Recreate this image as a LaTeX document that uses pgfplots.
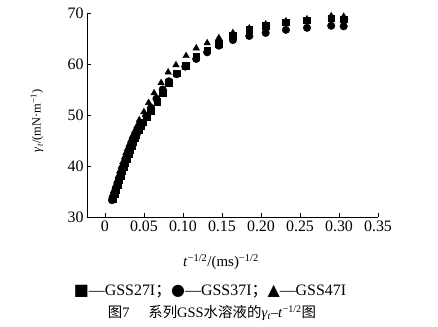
\documentclass[border=0pt]{standalone}
\usepackage{fontspec}
\setmainfont{Liberation Serif}
\newfontfamily\cjk{Noto Sans CJK SC}
\newfontfamily\sym{DejaVu Sans}
\usepackage{pgfplots}
\usepackage{pgfplotstable}
\pgfplotsset{compat=1.18}

\pgfplotstableread{
x y
0.010 33.6
0.012 34.5
0.014 35.4
0.016 36.3
0.018 37.2
0.020 38.1
0.022 39.0
0.024 39.9
0.026 40.7
0.028 41.5
0.030 42.3
0.032 43.1
0.034 43.9
0.036 44.7
0.038 45.5
0.040 46.2
0.043 47.1
0.046 47.9
0.049 48.6
0.054 49.7
0.059 50.8
0.067 52.6
0.074 54.4
0.082 56.3
0.092 58.2
0.104 59.7
0.117 61.4
0.131 62.7
0.146 64.0
0.164 65.6
0.185 66.8
0.206 67.5
0.232 68.2
0.259 68.6
0.290 69.0
0.306 68.8
}\sqdata

\pgfplotstableread{
x y
0.009 33.3
0.011 34.1
0.013 35.0
0.015 35.9
0.017 36.8
0.019 37.7
0.021 38.6
0.023 39.5
0.025 40.3
0.027 41.1
0.029 41.9
0.031 42.7
0.033 43.5
0.035 44.3
0.038 45.3
0.041 46.3
0.044 47.2
0.048 48.3
0.053 49.8
0.059 51.4
0.066 53.2
0.074 55.0
0.082 56.6
0.092 58.0
0.103 59.5
0.117 61.0
0.131 62.3
0.146 63.6
0.164 64.7
0.185 65.5
0.206 66.1
0.232 66.7
0.259 67.1
0.290 67.5
0.306 67.4
}\cidata

\pgfplotstableread{
x y
0.009 34.2
0.011 35.1
0.013 36.0
0.015 37.0
0.017 38.0
0.019 39.0
0.021 39.9
0.023 40.8
0.025 41.7
0.027 42.6
0.029 43.4
0.031 44.2
0.033 45.0
0.035 45.8
0.038 46.8
0.041 47.8
0.044 49.0
0.050 50.6
0.056 52.4
0.063 54.3
0.072 56.3
0.081 58.4
0.091 59.8
0.104 61.6
0.117 63.1
0.131 64.1
0.146 65.1
0.164 66.1
0.185 67.0
0.206 67.8
0.232 68.4
0.259 68.8
0.290 69.4
0.306 69.3
}\trdata

\begin{document}
\begin{tikzpicture}
\useasboundingbox (-87bp,-110bp) rectangle (351bp,217bp);
\begin{axis}[
  scale only axis, width=291bp, height=204bp,
  xmin=-0.023, xmax=0.35, ymin=30, ymax=70,
  axis x line*=bottom, axis y line*=left,
  axis line style={line width=0.7pt},
  xtick={0,0.05,0.10,0.15,0.20,0.25,0.30,0.35},
  xticklabels={0,0.05,0.10,0.15,0.20,0.25,0.30,0.35},
  ytick={30,40,50,60,70},
  tick align=inside, major tick length=4bp,
  tick style={line width=0.7pt, black},
  tick label style={font=\fontsize{16}{16}\selectfont},
  /pgf/number format/assume math mode=true,
  clip=false,
]
\addplot[only marks, mark=*, mark size=3.8bp, black] table {\cidata};
\addplot[only marks, mark=square*, mark size=3.4bp, black] table {\sqdata};
\addplot[only marks, mark=triangle*, mark size=3.8bp, black] table {\trdata};
\end{axis}
\node[rotate=90, font=\fontsize{12.5}{12.5}\selectfont] at (-50bp,96bp) {\textit{γ}\textsubscript{\textit{t}}/(mN·m\textsuperscript{−1})};
\node[font=\fontsize{15}{15}\selectfont] at (134bp,-45bp) {\textit{t}\textsuperscript{−1/2}/(ms)\textsuperscript{−1/2}};
\node[font=\fontsize{16}{16}\selectfont] at (123bp,-75bp) {{\sym ■}—GSS27I{\cjk ；}{\sym ●}—GSS37I{\cjk ；}{\sym ▲}—GSS47I};
\node[font=\fontsize{14.5}{14.5}\selectfont] at (125bp,-96bp) {{\cjk 图}7\hspace{1.3em}{\cjk 系列}GSS{\cjk 水溶液的}\textit{γ}\textsubscript{\textit{t}}–\textit{t}\textsuperscript{−1/2}{\cjk 图}};
\end{tikzpicture}
\end{document}
